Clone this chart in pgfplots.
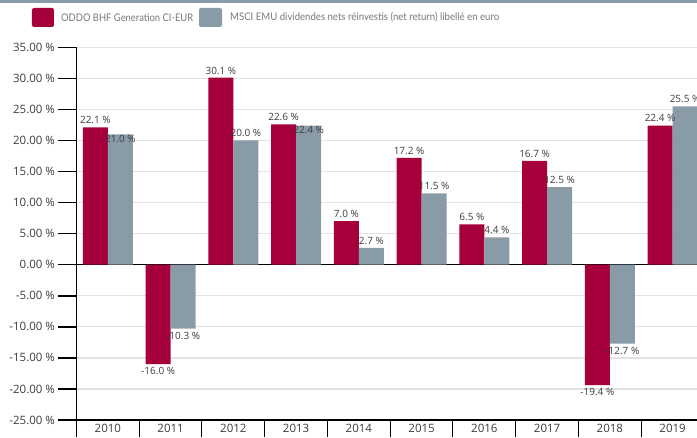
\documentclass[border=0pt]{standalone}
\usepackage{pgfplots}
\pgfplotsset{compat=1.18}
\usepackage{pgfplotstable}
\usepackage{fontspec}
\setmainfont{Open Sans}
\newfontfamily\legfont{Lato}
\definecolor{oddored}{RGB}{166,0,60}
\definecolor{msci}{RGB}{138,155,168}
\definecolor{gridc}{RGB}{226,226,226}
\definecolor{txt}{RGB}{60,60,60}
\definecolor{legtxt}{RGB}{120,120,120}

\pgfplotstableread{
x val dy
0 22.1 0
1 -16.0 0
2 30.1 0
3 22.6 0
4 7.0 0
5 17.2 0
6 6.5 0
7 16.7 0
8 -19.4 0
9 22.4 0
}\reddata
\pgfplotstableread{
x val dy
0 21.0 -11.5
1 -10.3 0
2 20.0 0
3 22.4 -11.5
4 2.7 0
5 11.5 0
6 4.4 0
7 12.5 0
8 -12.7 0
9 25.5 0
}\graydata

\begin{document}
\begin{tikzpicture}[x=1pt,y=1pt]
\begin{axis}[
  at={(0,0)}, anchor=south west,
  scale only axis, width=620.5pt, height=372.7pt,
  xmin=-0.5, xmax=9.389, ymin=-25, ymax=35,
  axis x line=bottom, axis y line=left,
  axis line style={-, black, line width=1.3pt},
  ybar=0pt, bar width=25pt,
  xtick={0,...,9},
  xticklabels={2010,2011,2012,2013,2014,2015,2016,2017,2018,2019},
  major x tick style={draw=none},
  minor xtick={-0.5,0.5,...,9.5},
  minor x tick style={black, line width=1pt},
  minor tick length=17pt,
  tick align=outside,
  xticklabel shift=-17pt,
  ytick={-25,-20,...,35},
  major tick length=18pt,
  major y tick style={black, line width=1.5pt},
  ymajorgrids, grid style={gridc, line width=1.3pt},
  extra y ticks={0}, extra y tick labels={},
  extra y tick style={grid style={black, line width=1pt}},
  yticklabel={\pgfmathprintnumber[fixed,fixed zerofill,precision=2,assume math mode=true]{\tick}~\%},
  ticklabel style={font=\fontsize{11.5}{13}\selectfont, text=txt},
  nodes near coords={\pgfmathprintnumber[fixed,fixed zerofill,precision=1,assume math mode=true]{\pgfplotspointmeta}~\%},
  every node near coord/.append style={font=\fontsize{10}{12}\selectfont, text=txt},
  visualization depends on={\thisrow{dy} \as \dy},
  clip=true,
]
\addplot[fill=oddored, draw=none, every node near coord/.append style={yshift=\dy pt}] table[x=x,y=val] {\reddata};
\addplot[fill=msci, draw=none, every node near coord/.append style={yshift=\dy pt}] table[x=x,y=val] {\graydata};
\end{axis}
% top strip and legend
\fill[msci] (-76.5,417) rectangle (620.5,420);
\fill[oddored, rounded corners=2pt] (-44.5,393) rectangle (-22.5,412);
\node[anchor=west, inner sep=0, text=legtxt, font=\legfont\fontsize{10.5}{12}\selectfont] at (-15.5,402.5) {\resizebox{132pt}{\height}{ODDO BHF Generation CI-EUR}};
\fill[msci, rounded corners=2pt] (122.5,393) rectangle (145.5,412);
\node[anchor=west, inner sep=0, text=legtxt, font=\legfont\fontsize{10.5}{12}\selectfont] at (153.5,402.5) {\resizebox{269pt}{\height}{MSCI EMU dividendes nets réinvestis (net return) libellé en euro}};
\pgfresetboundingbox
\useasboundingbox (-76.5,-17) rectangle (620.5,420);
\end{tikzpicture}
\end{document}
